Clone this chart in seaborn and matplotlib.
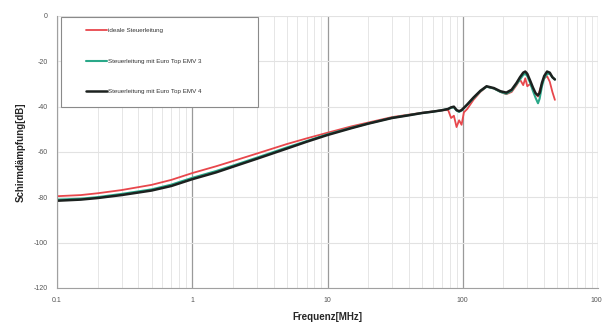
import numpy as np
import matplotlib
matplotlib.use("Agg")
import matplotlib.pyplot as plt
import matplotlib.ticker as mticker
from matplotlib.patches import Rectangle
import pandas as pd
import seaborn as sns

# Frequenzpunkte [MHz]
freq = [0.1, 0.15, 0.2, 0.3, 0.5, 0.7, 1, 1.5, 2, 3, 5, 7, 10, 15, 20, 30, 40, 50,
        60, 70, 78, 82, 86, 90, 94, 98, 102, 108, 120, 135, 150, 170, 190, 210,
        230, 250, 265, 280, 290, 300, 315, 330, 345, 360, 370, 385, 400, 420,
        440, 460, 480]

# Schirmdämpfung [dB] je Variante
ideal = [-79.5, -79, -78.2, -76.8, -74.5, -72.3, -69.3, -66.3, -64, -60.7, -56.5,
         -54, -51.5, -48.7, -47, -44.6, -43.5, -42.7, -42.1, -41.6, -41.5, -45,
         -44, -49, -46, -48, -42.5, -41, -37, -33.5, -31.2, -32, -33.5, -34.5,
         -33.5, -30.5, -28, -30.5, -27.5, -31, -30, -32, -34.5, -35.5, -33, -30,
         -27.5, -26.5, -29, -33.5, -37]
emv3 = [-81, -80.6, -79.9, -78.5, -76.5, -74.4, -71.4, -68.4, -66, -62.5, -58,
        -55.2, -52.2, -49.3, -47.4, -44.9, -43.7, -42.8, -42.2, -41.6, -41, -40.5,
        -40.3, -41.7, -42.3, -41.7, -40.7, -39.2, -36.3, -33.2, -31.2, -32, -33.5,
        -34.3, -33, -30, -28, -26, -25.5, -26.5, -29.5, -33, -36, -38.5, -36.5,
        -31, -27.5, -25.5, -25.5, -27, -28]
emv4 = [-81.5, -81, -80.3, -79, -77, -75, -72, -69, -66.5, -63, -58.5, -55.5,
        -52.5, -49.5, -47.5, -45, -43.8, -42.8, -42.2, -41.6, -41, -40.3, -40,
        -41.5, -42, -41.5, -40.5, -39, -36, -33, -31, -31.8, -33.2, -33.8, -32.5,
        -29.5, -27, -25, -24.5, -25.5, -28.5, -31.5, -34, -35, -34, -29.5, -26.5,
        -24.5, -25, -27, -28]

labels = ["ideale Steuerleitung",
          "Steuerleitung mit Euro Top EMV 3",
          "Steuerleitung mit Euro Top EMV 4"]
farben = {labels[0]: "#e8474c", labels[1]: "#2aa889", labels[2]: "#1c211f"}
breiten = {labels[0]: 1.3, labels[1]: 1.5, labels[2]: 1.8}

df = pd.concat([pd.DataFrame({"f": freq, "dB": v, "Leitung": l})
                for v, l in zip([ideal, emv3, emv4], labels)])

sns.set_style("white")
plt.rcParams['font.family'] = ['Liberation Sans', 'DejaVu Sans']
plt.rcParams['axes.unicode_minus'] = False

fig = plt.figure(figsize=(6.02, 3.27), dpi=100)
ax = fig.add_axes([57/602, 1-288/327, 541/602, 272/327])

for l in labels:
    sns.lineplot(data=df[df.Leitung == l], x="f", y="dB", color=farben[l],
                 lw=breiten[l], ax=ax, label=l, legend=False)

ax.set_xscale("log")
ax.set_xlim(0.1, 1000)
ax.set_ylim(-120, 0)
ax.set_yticks(np.arange(-120, 1, 20))
ax.xaxis.set_major_locator(mticker.LogLocator(base=10))
ax.xaxis.set_minor_locator(mticker.LogLocator(base=10, subs=np.arange(2, 10)))
ax.xaxis.set_minor_formatter(mticker.NullFormatter())
ax.xaxis.set_major_formatter(mticker.FuncFormatter(lambda v, p: f"{v:g}"))

ax.grid(True, which="major", axis="x", color="#9a9a9a", lw=0.9)
ax.grid(True, which="minor", axis="x", color="#e2e2e2", lw=0.6)
ax.grid(True, which="major", axis="y", color="#e2e2e2", lw=0.8)
ax.set_axisbelow(True)

for s in ["top", "right"]:
    ax.spines[s].set_visible(False)
for s in ["left", "bottom"]:
    ax.spines[s].set_color("#a0a0a0")
    ax.spines[s].set_linewidth(0.8)

ax.tick_params(axis="both", which="major", labelsize=5, colors="#555555",
               length=2.5, width=0.6, pad=4)
ax.tick_params(axis="x", which="minor", length=0)

ax.set_xlabel("Frequenz[MHz]", fontsize=7, fontweight="bold", labelpad=6)
ax.set_ylabel("Schirmdämpfung[dB]", fontsize=7, fontweight="bold", labelpad=6)

# Legendenrahmen
ax.add_patch(Rectangle((4/541, 1-91/272), 197/541, 90/272, transform=ax.transAxes,
                       fill=True, facecolor="white", edgecolor="#8a8a8a", lw=0.8,
                       zorder=4, clip_on=False))
leg = ax.legend(loc="upper left", bbox_to_anchor=(29/541, 1-12/272), frameon=False,
                fontsize=4.5, handlelength=3.4, handletextpad=0.1, labelspacing=4.0,
                borderpad=0, borderaxespad=0)
leg.set_zorder(5)
for t in leg.get_texts():
    t.set_color("#333333")

fig.savefig("out.png", dpi=100)
